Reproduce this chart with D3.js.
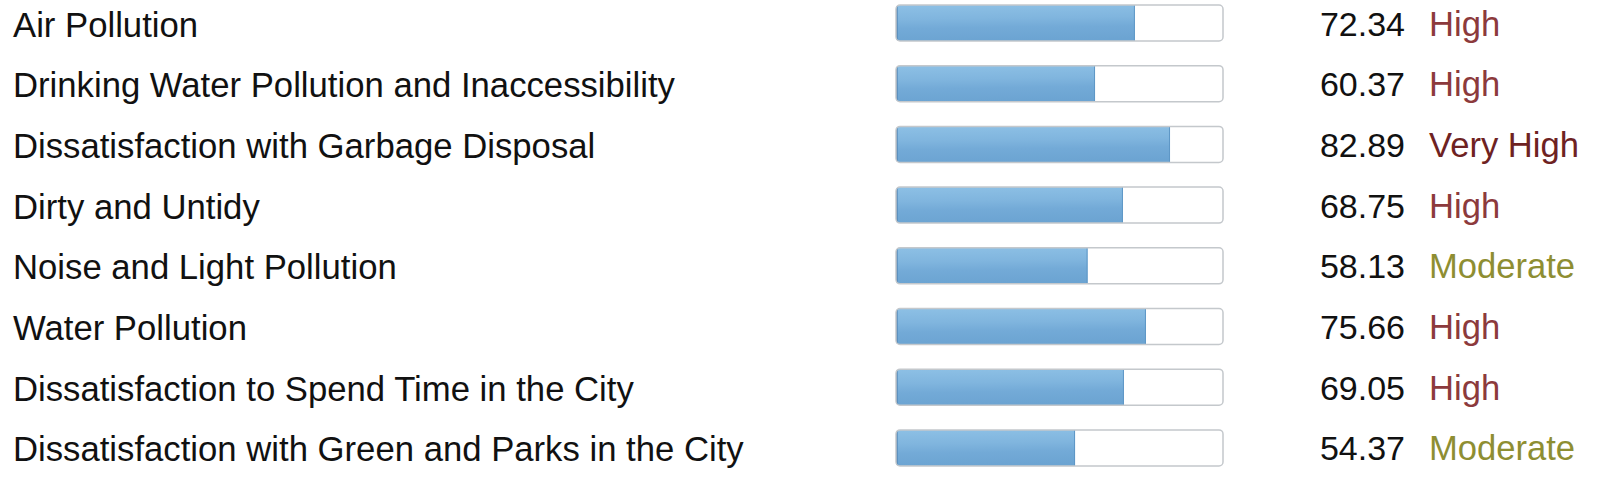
<!DOCTYPE html>
<html>
<head>
<meta charset="utf-8">
<script src="https://cdn.jsdelivr.net/npm/d3@7"></script>
<style>
  html, body { margin: 0; padding: 0; background: #fff; }
  svg { display: block; }
</style>
</head>
<body>
<script>
const categories = [
  "Air Pollution",
  "Drinking Water Pollution and Inaccessibility",
  "Dissatisfaction with Garbage Disposal",
  "Dirty and Untidy",
  "Noise and Light Pollution",
  "Water Pollution",
  "Dissatisfaction to Spend Time in the City",
  "Dissatisfaction with Green and Parks in the City"
];
const values = [72.34, 60.37, 82.89, 68.75, 58.13, 75.66, 69.05, 54.37];
const ratings = ["High", "High", "Very High", "High", "Moderate", "High", "High", "Moderate"];
const ratingColors = { "Very High": "#6e2222", "High": "#8c3a3c", "Moderate": "#8e8e32" };

const W = 1600, H = 485;
const FONT = "'Liberation Sans', Arial, sans-serif";
const svg = d3.select("body").append("svg").attr("width", W).attr("height", H);

const defs = svg.append("defs");
const g1 = defs.append("linearGradient").attr("id", "barGrad")
  .attr("x1", "0").attr("y1", "0").attr("x2", "0.08").attr("y2", "1");
g1.append("stop").attr("offset", "0").attr("stop-color", "#8dc0e5");
g1.append("stop").attr("offset", "0.4").attr("stop-color", "#80b5de");
g1.append("stop").attr("offset", "0.65").attr("stop-color", "#73aad7");
g1.append("stop").attr("offset", "1").attr("stop-color", "#6ca4d2");

const y = d3.scaleBand().domain(categories).range([-7.5, 478.1]);
const x = d3.scaleLinear().domain([0, 100]).range([894, 1227]);
const boxX0 = 896, boxX1 = 1223, barH = 36;

const rows = svg.selectAll("g.row").data(categories).join("g")
  .attr("class", "row")
  .attr("transform", d => `translate(0,${y(d)})`);

rows.append("text")
  .attr("x", 13).attr("y", 44)
  .attr("font-family", FONT)
  .attr("font-size", 34.7).attr("fill", "#111")
  .text(d => d);

rows.append("rect")
  .attr("x", boxX0).attr("y", 12.5)
  .attr("width", boxX1 - boxX0).attr("height", barH)
  .attr("rx", 4).attr("fill", "#fff");

rows.each(function(d, i) {
  const g = d3.select(this);
  const cid = "clip" + i;
  defs.append("clipPath").attr("id", cid)
    .append("rect").attr("x", boxX0).attr("y", 12.5)
    .attr("width", boxX1 - boxX0).attr("height", barH).attr("rx", 4);
  const fg = g.append("g").attr("clip-path", `url(#${cid})`);
  const w = x(values[i]) - boxX0;
  fg.append("rect").attr("x", boxX0).attr("y", 12.5)
    .attr("width", w).attr("height", barH).attr("fill", "url(#barGrad)");
  fg.append("line").attr("x1", boxX0 + 0.8).attr("x2", boxX0 + 0.8)
    .attr("y1", 12.5).attr("y2", 12.5 + barH)
    .attr("stroke", "#4f82b0").attr("stroke-width", 1.6);
  fg.append("line").attr("x1", boxX0 + w - 0.5).attr("x2", boxX0 + w - 0.5)
    .attr("y1", 12.5).attr("y2", 12.5 + barH)
    .attr("stroke", "#5e97c6").attr("stroke-width", 1);
});

rows.append("rect")
  .attr("x", boxX0).attr("y", 12.5)
  .attr("width", boxX1 - boxX0).attr("height", barH)
  .attr("rx", 4).attr("fill", "none")
  .attr("stroke", "#c4c8cc").attr("stroke-width", 1.5);

rows.append("text")
  .attr("x", 1405).attr("y", 43)
  .attr("text-anchor", "end")
  .attr("font-family", FONT)
  .attr("font-size", 34).attr("fill", "#111")
  .text((d, i) => values[i].toFixed(2));

rows.append("text")
  .attr("x", 1429).attr("y", 43)
  .attr("font-family", FONT)
  .attr("font-size", 34.6)
  .attr("fill", (d, i) => ratingColors[ratings[i]])
  .text((d, i) => ratings[i]);
</script>
</body>
</html>
